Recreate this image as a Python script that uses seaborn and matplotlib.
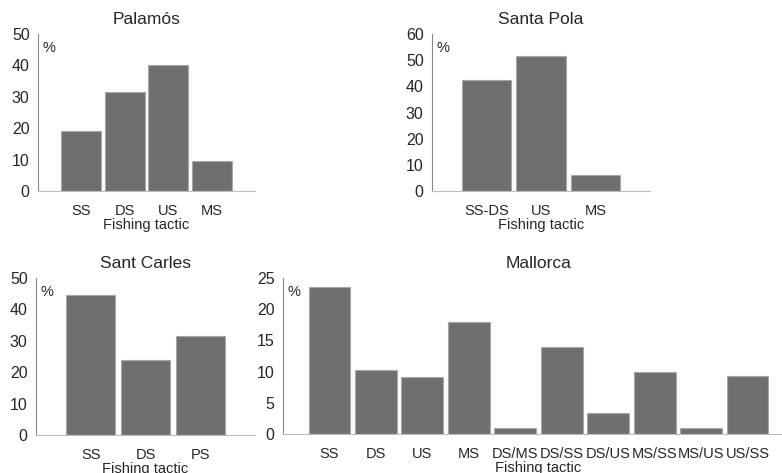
import matplotlib
matplotlib.use("Agg")
import matplotlib.pyplot as plt
import seaborn as sns

# data (% of fishing trips per tactic)
palamos_tactics = ["SS", "DS", "US", "MS"]
palamos_pct = [19.0, 31.5, 40.0, 9.5]

santapola_tactics = ["SS-DS", "US", "MS"]
santapola_pct = [42.4, 51.5, 6.1]

santcarles_tactics = ["SS", "DS", "PS"]
santcarles_pct = [44.7, 23.8, 31.4]

mallorca_tactics = ["SS", "DS", "US", "MS", "DS/MS", "DS/SS", "DS/US",
                    "MS/SS", "MS/US", "US/SS"]
mallorca_pct = [23.5, 10.2, 9.2, 17.9, 0.9, 14.0, 3.4, 9.9, 1.0, 9.35]

sns.set_style("white")
plt.rcParams["font.family"] = ["Liberation Sans", "DejaVu Sans"]

W, H = 782, 473
fig = plt.figure(figsize=(W / 100, H / 100), dpi=100)


def add_panel(left, right, top, bottom, title, cats, vals, ymax, step, width):
    ax = fig.add_axes([left / W, 1 - bottom / H, (right - left) / W, (bottom - top) / H])
    sns.barplot(x=cats, y=vals, ax=ax, color="#6f6f6f", edgecolor="#a8a8a8",
                linewidth=0.8, width=width, saturation=1)
    ax.set_xlim(-1, len(cats))
    ax.set_ylim(0, ymax)
    ax.set_yticks(range(0, ymax + 1, step))
    sns.despine(ax=ax)
    ax.spines["left"].set_color("#8a8a8a")
    ax.spines["bottom"].set_color("#bdbdbd")
    ax.tick_params(axis="y", length=3, width=0.8, color="#8a8a8a", pad=3, labelsize=11.5)
    ax.tick_params(axis="x", length=3, width=0.8, color="#8a8a8a", pad=6.5, labelsize=10.5)
    ax.set_title(title, fontsize=12.5, pad=7)
    ax.set_xlabel("Fishing tactic", fontsize=10.5, labelpad=0)
    ax.set_ylabel("")
    ax.annotate("%", xy=(0, 1), xycoords="axes fraction", xytext=(3, -10),
                textcoords="offset points", ha="left", va="center", fontsize=10.5)
    return ax


add_panel(38, 255, 34, 191, "Palamós", palamos_tactics, palamos_pct, 50, 10, 0.92)
add_panel(432, 650, 34, 191, "Santa Pola", santapola_tactics, santapola_pct, 60, 10, 0.9)
add_panel(36, 255, 278, 435, "Sant Carles", santcarles_tactics, santcarles_pct, 50, 10, 0.9)
add_panel(283, 794, 278, 434, "Mallorca", mallorca_tactics, mallorca_pct, 25, 5, 0.9)

fig.savefig("out.png", dpi=100)
